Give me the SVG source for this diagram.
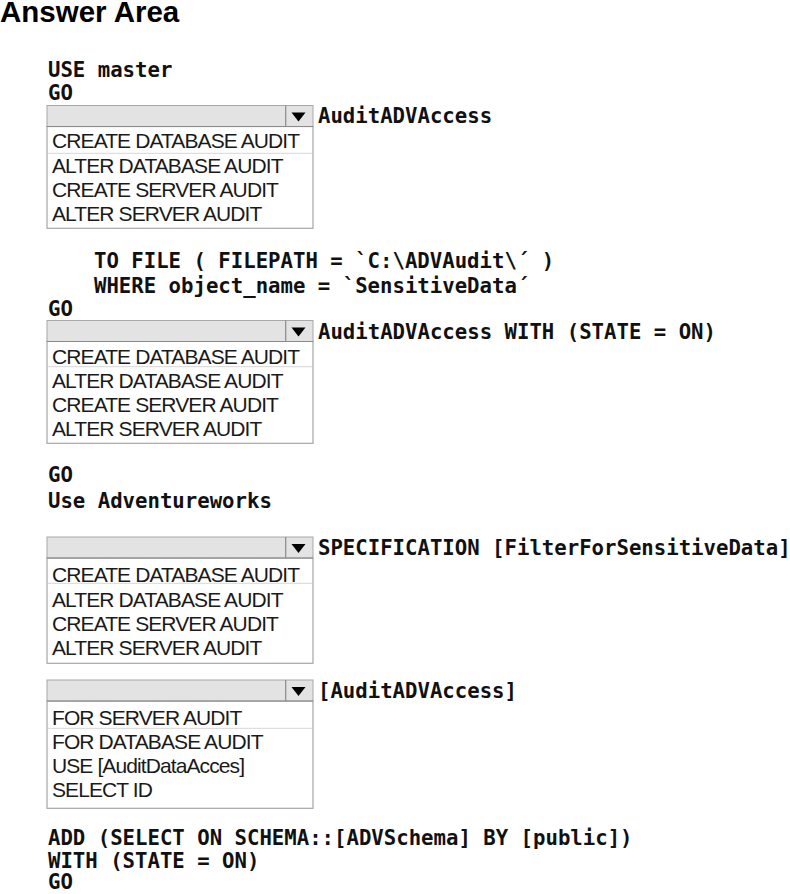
<svg xmlns="http://www.w3.org/2000/svg" xmlns:xlink="http://www.w3.org/1999/xlink" width="790" height="894" viewBox="0 0 790 894">
  <style>
    .title { font-family: "Liberation Sans", Arial, sans-serif; font-weight: bold; font-size: 29.5px; fill: #000; }
    .code { font-family: "DejaVu Sans Mono", "Liberation Mono", monospace; font-weight: bold; font-size: 20.66px; fill: #111; }
    .opt { font-family: "Liberation Sans", Arial, sans-serif; font-size: 21px; letter-spacing: -0.9px; fill: #1a1a1a; }
    .hdr { fill: #e3e3e3; stroke: #a8a8a8; stroke-width: 1; }
    .hdrline { stroke: #8a8a8a; stroke-width: 1.2; }
    .list { fill: #ffffff; stroke: #a6a6a6; stroke-width: 1.2; }
    .sep { stroke: #d6d6d6; stroke-width: 1; }
    .tri { fill: #000; }
  </style>
  <defs>
    <g id="header">
      <rect class="hdr" x="0" y="0" width="266" height="21"/>
      <line class="hdrline" x1="0" y1="21" x2="266" y2="21"/>
      <line class="hdrline" x1="238.7" y1="0" x2="238.7" y2="21"/>
      <polygon class="tri" points="244.5,7 258.5,7 251.5,16"/>
    </g>
  </defs>

  <text class="title" x="0" y="22">Answer Area</text>

  <g id="code-top">
    <text class="code" x="48" y="76.7">USE master</text>
    <text class="code" x="48" y="100">GO</text>
  </g>

  <g id="dropdown1">
    <rect class="list" x="47" y="126.5" width="266" height="101.8"/>
    <line class="sep" x1="47.5" y1="153.3" x2="312.5" y2="153.3"/>
    <use xlink:href="#header" x="47" y="105.5"/>
    <text class="opt" x="52" y="148.3">CREATE DATABASE AUDIT</text>
    <text class="opt" x="52" y="173.3">ALTER DATABASE AUDIT</text>
    <text class="opt" x="52" y="197.3">CREATE SERVER AUDIT</text>
    <text class="opt" x="52" y="221">ALTER SERVER AUDIT</text>
  </g>
  <text class="code" x="318" y="123">AuditADVAccess</text>

  <g id="code-file">
    <text class="code" x="94" y="268.3">TO FILE ( FILEPATH = `C:\ADVAudit\´ )</text>
    <text class="code" x="94" y="292.7">WHERE object_name = `SensitiveData´</text>
    <text class="code" x="48" y="316">GO</text>
  </g>

  <g id="dropdown2">
    <rect class="list" x="47" y="341" width="266" height="102.3"/>
    <line class="sep" x1="47.5" y1="366.7" x2="312.5" y2="366.7"/>
    <use xlink:href="#header" x="47" y="320.5"/>
    <text class="opt" x="52" y="364">CREATE DATABASE AUDIT</text>
    <text class="opt" x="52" y="388.3">ALTER DATABASE AUDIT</text>
    <text class="opt" x="52" y="411.7">CREATE SERVER AUDIT</text>
    <text class="opt" x="52" y="436">ALTER SERVER AUDIT</text>
  </g>
  <text class="code" x="318" y="339">AuditADVAccess WITH (STATE = ON)</text>

  <g id="code-use">
    <text class="code" x="48" y="481.7">GO</text>
    <text class="code" x="48" y="508.3">Use Adventureworks</text>
  </g>

  <g id="dropdown3">
    <rect class="list" x="47" y="558" width="266" height="105.3"/>
    <line class="sep" x1="47.5" y1="583.3" x2="312.5" y2="583.3"/>
    <use xlink:href="#header" x="47" y="537"/>
    <text class="opt" x="52" y="581.7">CREATE DATABASE AUDIT</text>
    <text class="opt" x="52" y="606.7">ALTER DATABASE AUDIT</text>
    <text class="opt" x="52" y="630.7">CREATE SERVER AUDIT</text>
    <text class="opt" x="52" y="655">ALTER SERVER AUDIT</text>
  </g>
  <text class="code" x="318" y="555">SPECIFICATION [FilterForSensitiveData]</text>

  <g id="dropdown4">
    <rect class="list" x="47" y="701" width="266" height="107.3"/>
    <line class="sep" x1="47.5" y1="728.3" x2="312.5" y2="728.3"/>
    <use xlink:href="#header" x="47" y="680"/>
    <text class="opt" x="52" y="725">FOR SERVER AUDIT</text>
    <text class="opt" x="52" y="749.3">FOR DATABASE AUDIT</text>
    <text class="opt" x="52" y="773.3">USE [AuditDataAcces]</text>
    <text class="opt" x="52" y="796.7">SELECT ID</text>
  </g>
  <text class="code" x="318" y="698">[AuditADVAccess]</text>

  <g id="code-bottom">
    <text class="code" x="48" y="845">ADD (SELECT ON SCHEMA::[ADVSchema] BY [public])</text>
    <text class="code" x="48" y="868.3">WITH (STATE = ON)</text>
    <text class="code" x="48" y="889">GO</text>
  </g>
</svg>
